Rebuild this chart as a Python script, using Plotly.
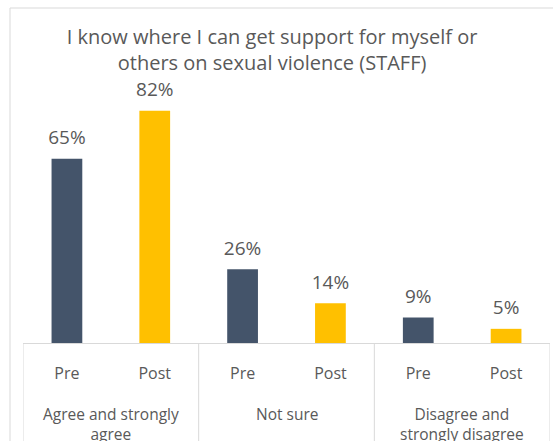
import plotly.graph_objects as go

# Survey responses, staff, before and after the programme
groups = ["Agree and strongly<br>agree", "Not sure", "Disagree and<br>strongly disagree"]
phases = ["Pre", "Post"]
pre_pct = [65, 26, 9]
post_pct = [82, 14, 5]

PRE_COLOR = "#44546A"
POST_COLOR = "#FFC000"
TEXT_COLOR = "#595959"
LINE_COLOR = "#D9D9D9"
FONT = "Open Sans"

# one unique category per bar; the axis shows only the phase name
keys, tick_text, values, colors = [], [], [], []
for g, a, b in zip(groups, pre_pct, post_pct):
    for ph, v, c in zip(phases, (a, b), (PRE_COLOR, POST_COLOR)):
        keys.append(f"{g} | {ph}")
        tick_text.append(ph)
        values.append(v)
        colors.append(c)

fig = go.Figure()
fig.add_trace(go.Bar(
    x=keys, y=values,
    marker=dict(color=colors, line=dict(width=0)),
    width=0.35, showlegend=False, hoverinfo="skip",
))
# value labels sit a little above each bar
fig.add_trace(go.Scatter(
    x=keys, y=values,
    mode="markers+text",
    marker=dict(size=14, opacity=0),
    text=[f"{v}%" for v in values],
    textposition="top center",
    textfont=dict(family=FONT, size=19, color=TEXT_COLOR),
    cliponaxis=False, showlegend=False, hoverinfo="skip",
))

n_per = len(phases)
annotations = []
shapes = [dict(
    type="rect", xref="paper", yref="paper",
    x0=-13 / 527, x1=1.2, y0=-0.6, y1=1 + 80 / 255,
    line=dict(color=LINE_COLOR, width=1), layer="below",
)]
for i, g in enumerate(groups):
    centre = i * n_per + (n_per - 1) / 2
    annotations.append(dict(
        x=centre, xref="x", y=-58 / 255, yref="paper",
        text=g, showarrow=False, xanchor="center", yanchor="top",
        font=dict(family=FONT, size=15.5, color=TEXT_COLOR),
    ))
# group separators below the axis
for k in range(len(groups) + 1):
    edge = k * n_per - 0.5
    shapes.append(dict(
        type="line", xref="x", yref="paper",
        x0=edge, x1=edge, y0=0, y1=-0.6,
        line=dict(color=LINE_COLOR, width=1),
    ))

fig.update_layout(
    width=553, height=441,
    margin=dict(l=23, r=3, t=88, b=98),
    paper_bgcolor="white", plot_bgcolor="white",
    font=dict(family=FONT, color=TEXT_COLOR),
    title=dict(
        text="I know where I can get support for myself or<br>others on sexual violence (STAFF)",
        font=dict(family=FONT, size=20, color=TEXT_COLOR),
        x=0.492, xanchor="center", xref="container",
        y=1 - 44 / 441, yanchor="top", yref="container",
    ),
    annotations=annotations,
    shapes=shapes,
)
fig.update_xaxes(
    type="category", range=[-0.5, len(keys) - 0.5],
    tickvals=keys, ticktext=tick_text,
    showline=True, linecolor=LINE_COLOR, linewidth=1,
    tickfont=dict(family=FONT, size=16, color=TEXT_COLOR),
    ticklabelstandoff=16,
    showgrid=False, ticks="",
)
fig.update_yaxes(range=[0, 90], visible=False, showgrid=False)

fig.write_html("out.html")
